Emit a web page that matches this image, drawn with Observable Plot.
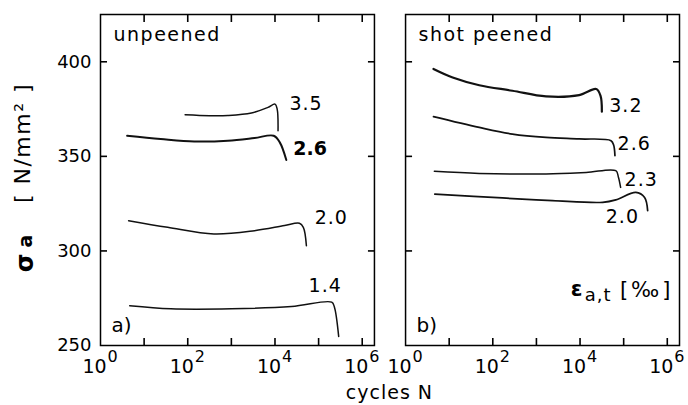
<!DOCTYPE html>
<html>
<head>
<meta charset="utf-8">
<script src="https://cdn.jsdelivr.net/npm/d3@7"></script>
<script src="https://cdn.jsdelivr.net/npm/@observablehq/plot@0.6"></script>
<style>
  html, body { margin: 0; padding: 0; background: #fff; }
</style>
</head>
<body>
<div id="chart"></div>
<script>
// ---- panels ----
const panels = ["a", "b"];
const panelTitles = ["unpeened", "shot peened"];
const panelTags = ["a)", "b)"];

// ---- axes ----
const yTickLabels = [250, 300, 350, 400];
const yInnerTicks = [300, 350, 400];
const xTickLabelExponents = [0, 2, 4, 6];
const xInnerTickExponents = [1, 2, 3, 4, 5, 6];

// ---- curves: [log10 N, sigma_a (N/mm²)] ----
// a) unpeened
const a_35 = [[1.94,372.0],[2.5,371.5],[2.92,371.6],[3.46,372.9],[3.84,375.9],[4.0,377.6],[4.05,375.0],[4.07,363.6]];
const a_26 = [[0.61,360.9],[1.38,359.2],[2.15,357.9],[2.92,358.3],[3.53,359.7],[3.97,360.9],[4.11,357.4],[4.26,348.1]];
const a_20 = [[0.645,316.0],[1.54,312.5],[2.6,309.0],[3.53,310.7],[4.22,313.4],[4.56,314.6],[4.65,312.5],[4.72,302.8]];
const a_14 = [[0.67,271.0],[1.61,269.4],[3.0,269.4],[4.38,270.6],[5.3,272.9],[5.36,270.5],[5.46,254.8]];
// b) shot peened
const b_32 = [[0.64,396.2],[1.08,391.7],[1.69,387.6],[2.45,384.7],[3.22,381.7],[3.98,382.4],[4.37,385.6],[4.47,382.0],[4.5,373.6]];
const b_26 = [[0.64,371.0],[1.69,365.3],[2.45,361.8],[3.22,360.0],[3.98,359.2],[4.71,358.3],[4.77,356.0],[4.8,350.4]];
const b_23 = [[0.66,342.1],[1.69,341.0],[3.22,340.7],[4.14,341.5],[4.82,342.4],[4.88,339.0],[4.93,333.6]];
const b_20 = [[0.67,330.0],[2.22,328.0],[3.37,326.6],[4.52,325.7],[4.82,327.0],[5.28,331.0],[5.48,328.3],[5.55,321.3]];

// strain amplitude labels and their anchor (log10 N, sigma)
const curveNames  = ["a_35","a_26","a_20","a_14","b_32","b_26","b_23","b_20"];
const curvePanels = ["a","a","a","a","b","b","b","b"];
const curveLabels = ["3.5","2.6","2.0","1.4","3.2","2.6","2.3","2.0"];
const curveWidths = [1.5, 2.0, 1.5, 1.5, 2.2, 1.7, 1.5, 1.7];
const labelLogN   = [4.33, 4.42, 4.91, 4.77, 4.67, 4.86, 5.02, 4.59];
const labelSigma  = [377.6, 353.9, 317.6, 281.7, 376.8, 356.5, 337.7, 318.1];
const labelWeight = ["normal","bold","normal","normal","normal","normal","normal","normal"];

const curveData = {a_35, a_26, a_20, a_14, b_32, b_26, b_23, b_20};

const rows = [];
curveNames.forEach((name, i) => {
  curveData[name].forEach(([lg, s]) => rows.push({id: name, panel: curvePanels[i], N: 10 ** lg, sigma: s, w: curveWidths[i]}));
});
const labels = curveNames.map((name, i) => ({panel: curvePanels[i], N: 10 ** labelLogN[i], sigma: labelSigma[i], text: curveLabels[i], weight: labelWeight[i]}));
const panelRows = panels.map((p, i) => ({panel: p, title: panelTitles[i], tag: panelTags[i]}));
const onlyA = panelRows.filter(d => d.panel === "a");
const onlyB = panelRows.filter(d => d.panel === "b");

const tickLen = 7;
const font = "DejaVu Sans, sans-serif";

const chart = Plot.plot({
  width: 688, height: 405,
  marginLeft: 100, marginRight: 9, marginTop: 14, marginBottom: 60,
  style: {fontFamily: font, fontSize: "18px", background: "#fff", color: "#000", overflow: "visible"},
  fx: {domain: panels, paddingInner: 0.102, paddingOuter: 0, round: false, axis: null, label: null},
  x: {type: "log", domain: [1, 10 ** 6.28], axis: null},
  y: {domain: [250, 425]},
  marks: [
    Plot.frame({stroke: "#000", strokeWidth: 1.5}),
    // y tick labels on the left of panel a only
    Plot.axisY(yTickLabels, {anchor: "left", tickSize: 0, tickPadding: 9, label: null, fontSize: 18}),
    // inward ticks on all four sides of each panel (outward ticks shifted inside)
    Plot.axisY(yInnerTicks, {anchor: "left", tickSize: tickLen, dx: tickLen, fill: "none", label: null, facetAnchor: null, stroke: "#000", strokeWidth: 1.6}),
    Plot.axisY(yInnerTicks, {anchor: "right", tickSize: tickLen, dx: -tickLen, fill: "none", label: null, facetAnchor: null, stroke: "#000", strokeWidth: 1.6}),
    Plot.axisX(xInnerTickExponents.map(e => 10 ** e), {anchor: "bottom", tickSize: tickLen, dy: -tickLen, fill: "none", label: null, facetAnchor: null, stroke: "#000", strokeWidth: 1.6}),
    Plot.axisX(xInnerTickExponents.map(e => 10 ** e), {anchor: "top", tickSize: tickLen, dy: tickLen, fill: "none", label: null, facetAnchor: null, stroke: "#000", strokeWidth: 1.6}),
    // x tick labels 10^k
    Plot.text(xTickLabelExponents, {x: e => 10 ** e, text: () => "10", frameAnchor: "bottom", textAnchor: "middle", lineAnchor: "middle", dx: -6, dy: 21, fontSize: 19}),
    Plot.text(xTickLabelExponents, {x: e => 10 ** e, text: e => String(e), frameAnchor: "bottom", textAnchor: "middle", lineAnchor: "middle", dx: 12, dy: 11, fontSize: 16}),
    // curves
    Plot.line(rows, {fx: "panel", x: "N", y: "sigma", z: "id", stroke: "#111", strokeWidth: "w", curve: "catmull-rom", strokeLinejoin: "round", strokeLinecap: "round"}),
    // curve labels
    Plot.text(labels.filter(d => d.weight === "normal"), {fx: "panel", x: "N", y: "sigma", text: "text", textAnchor: "start", lineAnchor: "middle", fontSize: 19, ariaDescription: "spaced1"}),
    Plot.text(labels.filter(d => d.weight === "bold"), {fx: "panel", x: "N", y: "sigma", text: "text", textAnchor: "start", lineAnchor: "middle", fontSize: 19, fontWeight: "bold"}),
    // panel titles and tags
    Plot.text(panelRows, {fx: "panel", text: "title", frameAnchor: "top-left", textAnchor: "start", lineAnchor: "middle", dx: 13, dy: 20, fontSize: 19, ariaDescription: "spaced15"}),
    Plot.text(panelRows, {fx: "panel", text: "tag", frameAnchor: "bottom-left", textAnchor: "start", lineAnchor: "middle", dx: 11, dy: -20, fontSize: 20}),
    // strain legend text in panel b
    Plot.text(onlyB, {fx: "panel", text: () => "[‰]", frameAnchor: "bottom-right", textAnchor: "end", lineAnchor: "middle", dx: -6, dy: -55, fontSize: 21, ariaDescription: "spaced3"}),
    Plot.text(onlyB, {fx: "panel", text: () => "a,t", frameAnchor: "bottom-right", textAnchor: "end", lineAnchor: "middle", dx: -68, dy: -50, fontSize: 18, ariaDescription: "spaced1"}),
    Plot.text(onlyB, {fx: "panel", text: () => "ε", frameAnchor: "bottom-right", textAnchor: "end", lineAnchor: "middle", dx: -97, dy: -56, fontSize: 21, fontWeight: "bold"}),
    // y axis title (panel a)
    Plot.text(onlyA, {fx: "panel", text: () => "[ N/mm² ]", frameAnchor: "left", rotate: -90, textAnchor: "middle", lineAnchor: "middle", dx: -78, dy: -37, fontSize: 22, ariaDescription: "spaced15"}),
    Plot.text(onlyA, {fx: "panel", text: () => "σ", frameAnchor: "left", rotate: -90, textAnchor: "middle", lineAnchor: "middle", dx: -75, dy: 83, fontSize: 24, fontWeight: "bold"}),
    Plot.text(onlyA, {fx: "panel", text: () => "a", frameAnchor: "left", rotate: -90, textAnchor: "middle", lineAnchor: "middle", dx: -75, dy: 61, fontSize: 19, fontWeight: "bold"}),
    // x axis title
    Plot.text(onlyA, {fx: "panel", text: () => "cycles N", frameAnchor: "bottom-right", textAnchor: "middle", lineAnchor: "middle", dx: 15, dy: 47, fontSize: 19, ariaDescription: "spaced1"})
  ]
});

// wider letter spacing, as in the scanned figure
const spacing = {spaced1: "1px", spaced15: "1.5px", spaced3: "3px"};
for (const [key, value] of Object.entries(spacing)) {
  d3.select(chart).selectAll(`g[aria-description="${key}"] text`).style("letter-spacing", value);
}

document.getElementById("chart").appendChild(chart);
</script>
</body>
</html>
